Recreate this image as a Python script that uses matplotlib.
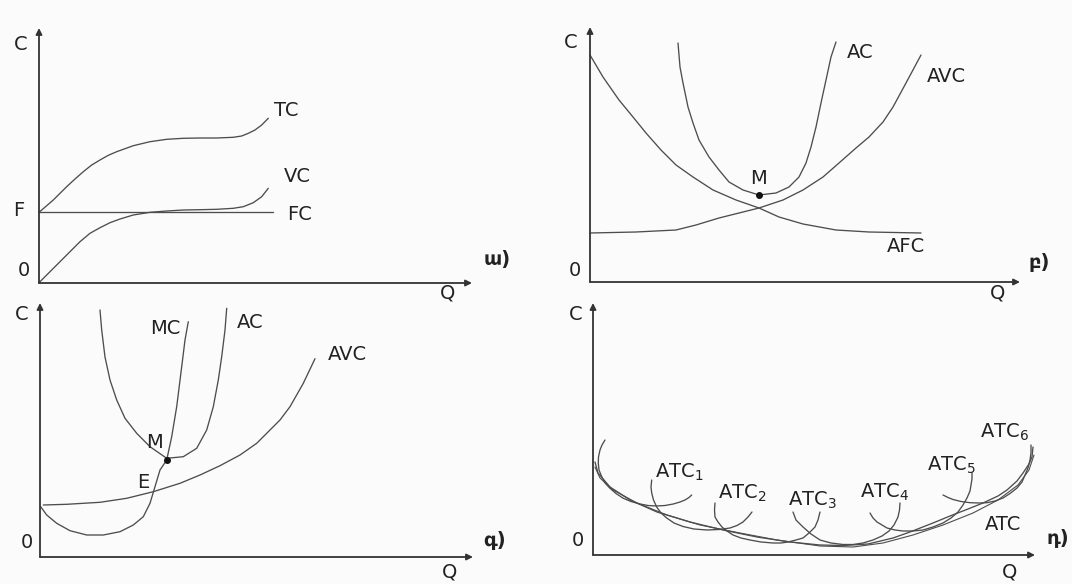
import matplotlib
matplotlib.use("Agg")
import matplotlib.pyplot as plt

plt.rcParams['font.family'] = ['DejaVu Sans']

W, H = 1072, 584
LINE = '#4d4d4d'
AXC = '#333333'
FS = 14

# ---------------- Panel a: total costs ----------------
q_tc = [0, 7.7, 14.3, 21, 27.7, 36, 44.3, 52.7, 61, 69.3, 77.7, 94.3, 111, 127.7, 144.3, 161,
        177.7, 194.3, 202.7, 209.3, 216, 222.7, 229.3]
tc = [70.7, 77.3, 83, 89.7, 96.3, 104, 111.3, 118, 123, 127.7, 131.3, 137.3, 141.3, 143.7, 144.7,
      145, 145, 145.7, 147, 149.7, 153, 158, 164.7]
q_vc = [0, 11, 21, 31, 41, 51, 61, 71, 81, 94.3, 111, 127.7, 144.3, 161, 177.7, 194.3, 204.3,
        214.3, 222.7, 229.3]
vc = [0.3, 11.3, 21.3, 31.3, 41.3, 49.7, 55.3, 60.3, 64, 68, 70.7, 72, 73, 73.3, 73.7, 74.7,
      76.3, 80.3, 86.3, 94.7]
fc_q = [0, 234]
fc = [71, 71]

# ---------------- Panel b: average costs ----------------
q_afc = [0, 13, 29, 43, 56, 71, 86, 103, 123, 146, 169, 189, 213, 246, 279, 331]
afc = [227, 205, 182, 165, 149, 132, 117, 105, 92, 82, 74, 65, 58, 52, 50, 49]
q_avc_b = [0, 46, 86, 106, 129, 149, 169, 193, 213, 233, 249, 266, 279, 293, 303, 316, 331]
avc_b = [49, 50, 52, 57, 64, 69, 74, 82, 92, 105, 119, 134, 145, 160, 175, 199, 227]
q_ac_b = [88, 90, 93, 98, 103, 109, 119, 129, 139, 153, 169, 186, 199, 209, 216, 221, 226,
          231, 236, 241, 246]
ac_b = [239, 215, 199, 175, 159, 142, 125, 112, 100, 92, 87, 89, 95, 105, 119, 135, 155,
        179, 202, 225, 240]
m_b = (169, 87)

# ---------------- Panel c: marginal cost ----------------
q_avc_c = [3.3, 26.7, 60, 86.7, 113.3, 140, 160, 180, 200, 216.7, 226.7, 240, 250, 263.3, 275]
avc_c = [52, 52.7, 54.7, 58.7, 65.3, 73.7, 82, 91.3, 102, 113.7, 123.7, 137, 150.3, 173.7, 198.3]
q_mc = [0.7, 6.7, 16.7, 30, 46.7, 63.3, 80, 93.3, 103.3, 110, 114, 120, 126.7, 131.7, 136.7,
        141.7, 145, 148.3]
mc = [50.3, 42, 33.7, 26.3, 22, 22, 25.3, 32, 40.3, 53.7, 67, 87, 97, 120.3, 150.3, 190.3,
      217, 235.3]
q_ac_c = [60, 61.7, 65, 70, 76.7, 85, 96.7, 110, 126.7, 143.3, 156.7, 166.7, 173.3, 178.3,
          181.7, 185, 186.7]
ac_c = [247, 227, 200, 177, 157, 138.7, 123.7, 110.3, 98.7, 100.3, 108.7, 127, 150.3, 177,
        200.3, 227, 248.7]
m_c = (126.7, 97)

# ---------------- Panel d: short-run ATC and envelope ----------------
q_atc = [[12, 9, 7, 5.5, 5.3, 6, 8.7, 12, 17, 23, 30.3, 38, 47, 55, 63.7, 72, 80.3, 87, 92, 96, 98.7],
         [58.7, 58, 58.7, 60.5, 63.7, 68, 73.7, 81, 90, 101, 114, 126, 137, 144, 150, 155, 159],
         [122, 121.5, 122, 125, 129, 134, 140, 148, 157, 168, 180, 188, 195, 203, 210, 216, 222,
          225, 227],
         [200, 203, 210, 218, 227, 238, 250, 260, 270, 280, 289, 296, 301, 305, 306.5, 307],
         [277, 280, 284, 289, 294, 302, 310, 320, 330, 340, 350, 358, 365, 370, 374, 377, 378,
          379, 379],
         [350, 355, 360, 368, 377, 386, 394, 402, 410, 417, 424, 429, 432, 435, 437, 438, 438]]
atc_sr = [[115, 110, 105, 98, 91.7, 85, 78.3, 72, 66.7, 61.5, 56.7, 53.5, 51, 49.5, 49, 49.5, 51,
           53, 55, 57.5, 60],
          [75, 68, 62, 55, 48, 42, 37, 32, 28.5, 26, 25, 25.5, 27, 29.5, 33, 38, 43],
          [52, 45, 38, 33, 28, 24, 20, 17, 15, 13, 12, 12, 13, 15, 17, 22, 28, 35, 43],
          [43, 35, 28, 21, 15, 12, 10.5, 10.5, 12, 15, 19, 24, 30, 38, 45, 52],
          [42, 37, 33, 30, 27, 25, 24, 24, 25, 28, 32, 37, 43, 50, 57, 64, 70, 76, 82],
          [60, 57.5, 55.5, 53.5, 52.3, 52, 52.3, 54, 57, 61.5, 67, 73, 80, 87, 95, 102, 110]]
q_env = [2, 5, 17, 37, 64, 97, 130, 164, 197, 227, 250, 275, 300, 317, 340, 357, 375, 390,
         405, 414, 424, 430, 436, 439, 440]
env = [93, 82, 68, 55, 43, 33, 25, 18, 13, 10, 9.5, 11, 17, 23, 32, 39, 46, 52, 59, 65, 74,
       82, 91, 98, 108]
q_env2 = [2, 7, 20, 44, 74, 107, 147, 184, 227, 260, 290, 320, 350, 380, 405, 425, 436, 441]
env2 = [88, 77, 65, 52, 40, 30, 22, 15, 9, 8, 12, 20, 30, 42, 55, 70, 85, 100]
atc_labels = ['ATC$_1$', 'ATC$_2$', 'ATC$_3$', 'ATC$_4$', 'ATC$_5$', 'ATC$_6$']
atc_label_pos = [(62, 83), (125, 62), (195, 55), (267, 63), (334, 90), (387, 123)]

panel_letters = ['ա)', 'բ)', 'գ)', 'դ)']

fig = plt.figure(figsize=(W / 100, H / 100), dpi=100)
fig.patch.set_facecolor('#fbfbfb')


def make_axes(x0, y0, x1, y1, ox, oy):
    ax = fig.add_axes([x0 / W, 1 - y1 / H, (x1 - x0) / W, (y1 - y0) / H])
    ax.set_xlim(x0 - ox, x1 - ox)
    ax.set_ylim(oy - y1, oy - y0)
    ax.axis('off')
    return ax


def draw_axes(ax, top, right):
    kw = dict(arrowstyle='-|>', color=AXC, lw=1.3, mutation_scale=9, shrinkA=0, shrinkB=0)
    ax.annotate('', xy=(0, top), xytext=(0, 0), arrowprops=kw)
    ax.annotate('', xy=(right, 0), xytext=(0, 0), arrowprops=kw)


def curve(ax, q, c, lw=0.95):
    ax.plot(q, c, color=LINE, lw=lw, solid_joinstyle='round', solid_capstyle='round',
            clip_on=False)


def label(ax, x, y, s, ha='center', **kw):
    ax.text(x, y, s, ha=ha, va='center', fontsize=FS, color='#222222', **kw)


# Panel a
ax = make_axes(0, 0, 536, 292, 39, 283)
draw_axes(ax, 255, 433)
curve(ax, q_tc, tc)
curve(ax, q_vc, vc)
curve(ax, fc_q, fc)
label(ax, -18, 238, 'C')
label(ax, -20, 72, 'F')
label(ax, -15, 12, '0')
label(ax, 409, -10, 'Q')
label(ax, 247, 173, 'TC')
label(ax, 258, 106, 'VC')
label(ax, 261, 68, 'FC')
label(ax, 458, 23, panel_letters[0], fontweight='bold')

# Panel b
ax = make_axes(536, 0, 1072, 292, 590, 282)
draw_axes(ax, 255, 430)
curve(ax, q_afc, afc)
curve(ax, q_avc_b, avc_b)
curve(ax, q_ac_b, ac_b)
ax.plot([m_b[0]], [m_b[1]], 'o', color='#111111', ms=4)
label(ax, -19, 239, 'C')
label(ax, -15, 12, '0')
label(ax, 408, -11, 'Q')
label(ax, 270, 230, 'AC')
label(ax, 356, 206, 'AVC')
label(ax, 316, 35, 'AFC')
label(ax, 169, 104, 'M')
label(ax, 449, 20, panel_letters[1], fontweight='bold')

# Panel c
ax = make_axes(0, 292, 536, 584, 40, 557)
draw_axes(ax, 254, 433)
curve(ax, q_avc_c, avc_c)
curve(ax, q_mc, mc)
curve(ax, q_ac_c, ac_c)
ax.plot([m_c[0]], [m_c[1]], 'o', color='#111111', ms=4)
label(ax, -18, 242, 'C')
label(ax, -13, 15, '0')
label(ax, 410, -15, 'Q')
label(ax, 125, 229, 'MC')
label(ax, 210, 235, 'AC')
label(ax, 307, 202, 'AVC')
label(ax, 115, 114, 'M')
label(ax, 103, 74, 'E')
label(ax, 455, 17, panel_letters[2], fontweight='bold')

# Panel d
ax = make_axes(536, 292, 1072, 584, 593, 555)
draw_axes(ax, 252, 442)
for q, c in zip(q_atc, atc_sr):
    curve(ax, q, c)
curve(ax, q_env, env)
curve(ax, q_env2, env2, lw=0.8)
for s, (x, y) in zip(atc_labels, atc_label_pos):
    label(ax, x, y, s, ha='left')
label(ax, 392, 30, 'ATC', ha='left')
label(ax, -17, 240, 'C')
label(ax, -15, 15, '0')
label(ax, 417, -17, 'Q')
label(ax, 465, 17, panel_letters[3], fontweight='bold')

fig.savefig('out.png', dpi=100, facecolor=fig.get_facecolor())
